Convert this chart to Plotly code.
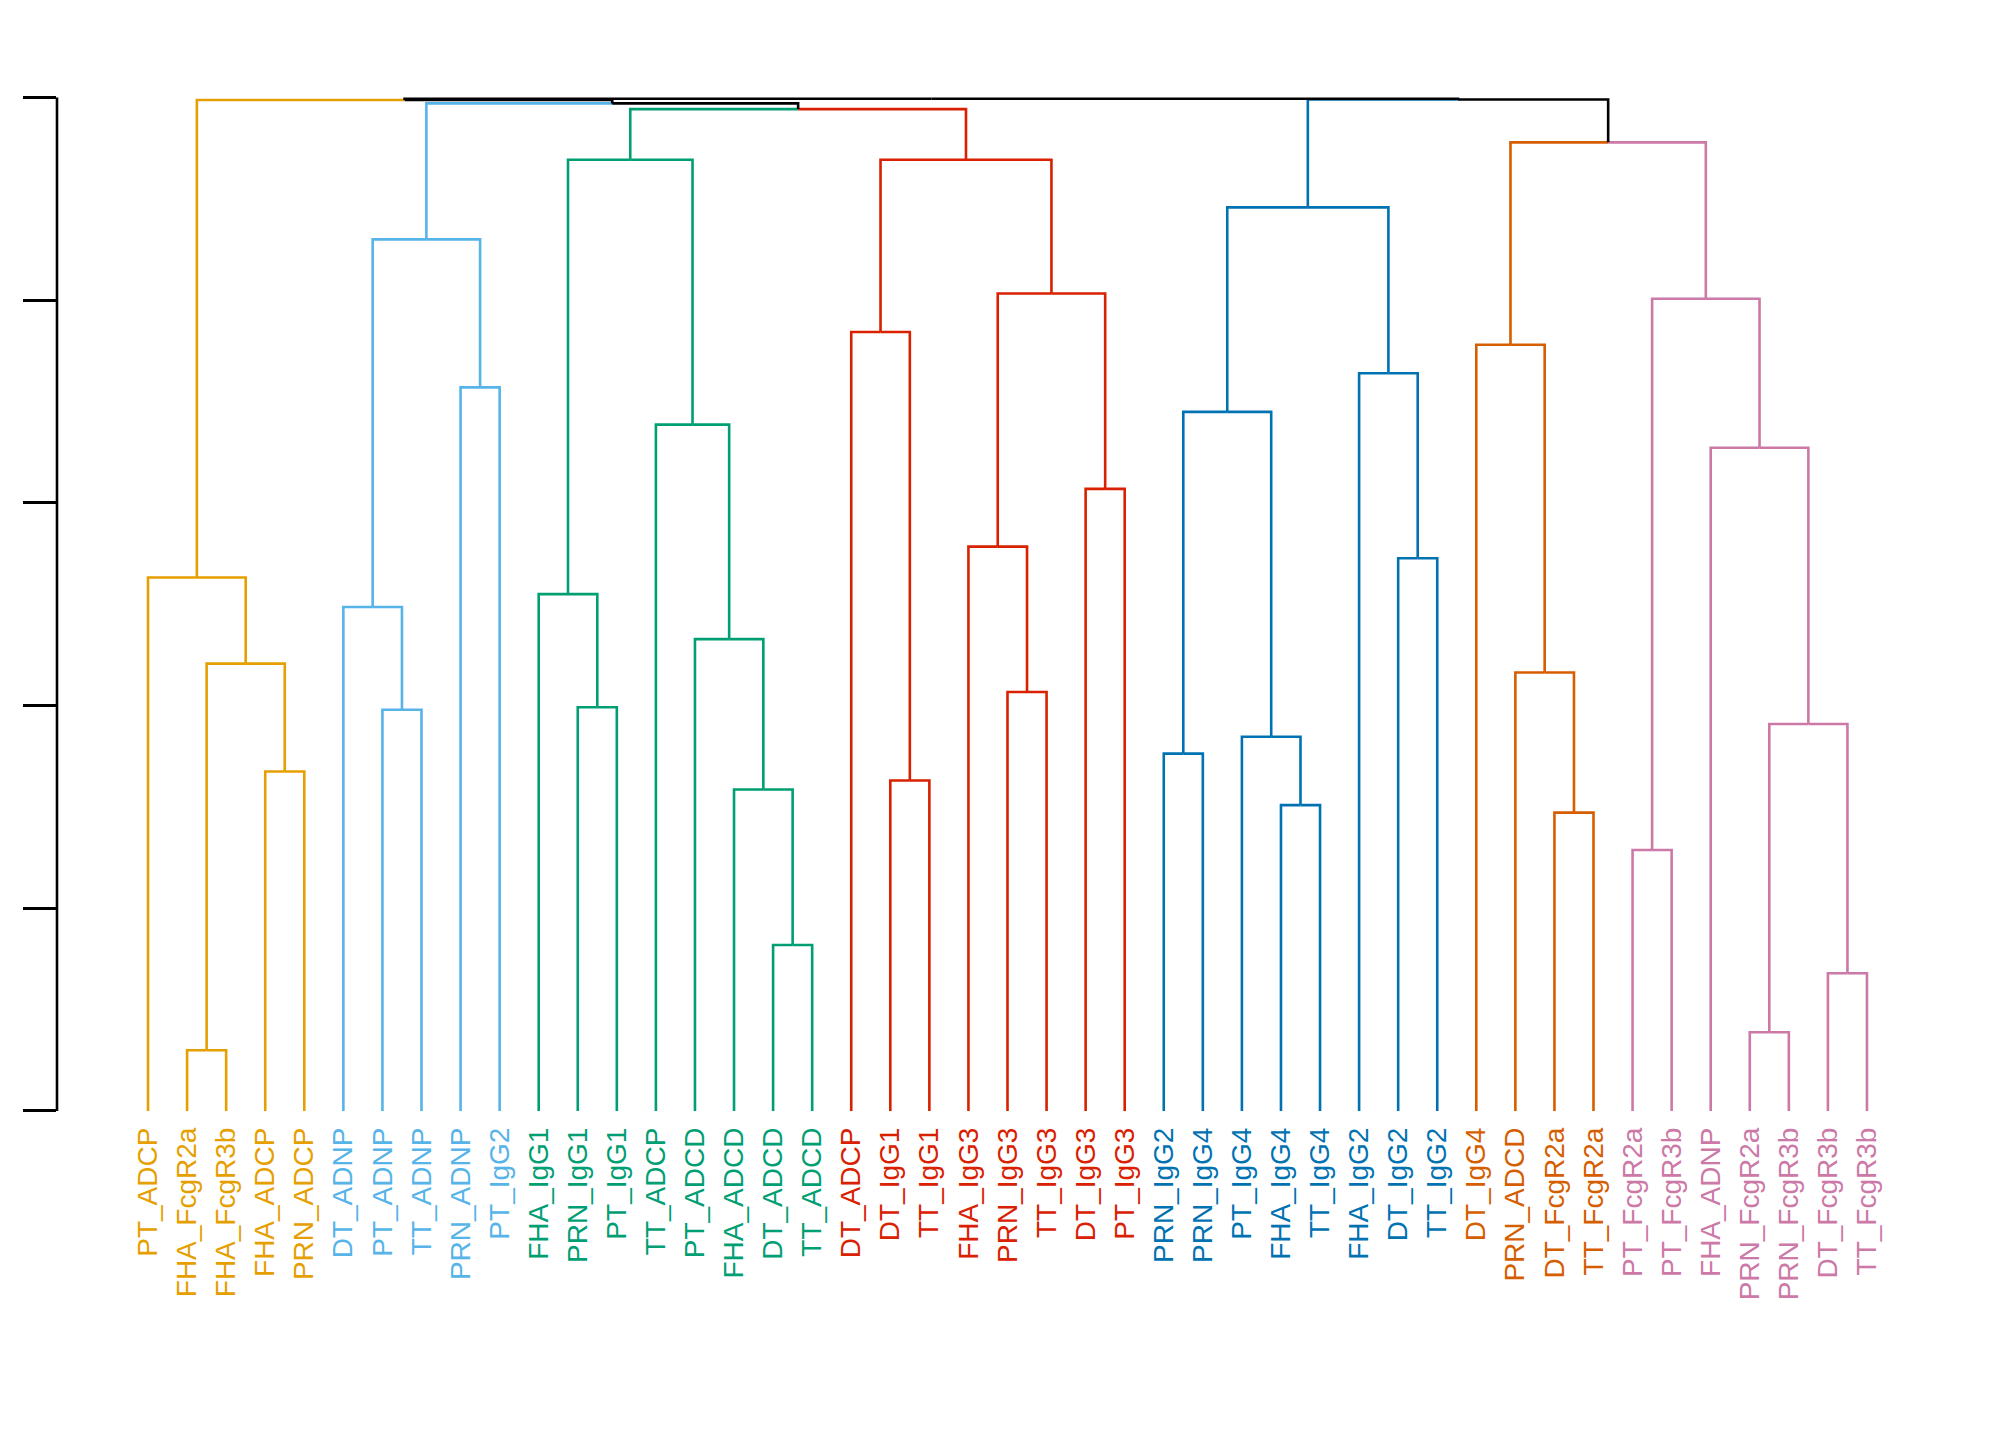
import plotly.graph_objects as go

# leaf order as drawn, left to right
leaf_labels = [
    "PT_ADCP", "FHA_FcgR2a", "FHA_FcgR3b", "FHA_ADCP", "PRN_ADCP",
    "DT_ADNP", "PT_ADNP", "TT_ADNP", "PRN_ADNP", "PT_IgG2",
    "FHA_IgG1", "PRN_IgG1", "PT_IgG1", "TT_ADCP", "PT_ADCD", "FHA_ADCD", "DT_ADCD", "TT_ADCD",
    "DT_ADCP", "DT_IgG1", "TT_IgG1", "FHA_IgG3", "PRN_IgG3", "TT_IgG3", "DT_IgG3", "PT_IgG3",
    "PRN_IgG2", "PRN_IgG4", "PT_IgG4", "FHA_IgG4", "TT_IgG4", "FHA_IgG2", "DT_IgG2", "TT_IgG2",
    "DT_IgG4", "PRN_ADCD", "DT_FcgR2a", "TT_FcgR2a",
    "PT_FcgR2a", "PT_FcgR3b", "FHA_ADNP", "PRN_FcgR2a", "PRN_FcgR3b", "DT_FcgR3b", "TT_FcgR3b",
]
leaf_cluster = [1] * 5 + [2] * 5 + [3] * 8 + [4] * 8 + [5] * 8 + [6] * 4 + [7] * 7
cluster_colors = {
    1: "#E69F00", 2: "#56B4E9", 3: "#009E73", 4: "#D92000",
    5: "#0072B2", 6: "#D55E00", 7: "#CC79A7",
}

# R-style merge matrix: negative = leaf (1-based), positive = earlier merge row
merge_left = [-2, -4, 1, -1, -7, -6, -9, 6, -12, -11, -17, -16, -15, -14, 10,
              -20, -19, -23, -22, -25, 19, 17, -27, -30, -29, 23, -33, -32, 26,
              -37, -36, -35, -39, -42, -44, 34, -41, 33, 32, 29, 15, 8, 4, 43]
merge_right = [-3, -5, 2, 3, -8, 5, -10, 7, -13, 9, -18, 11, 12, 13, 14,
               -21, 16, -24, 18, -26, 20, 21, -28, -31, 24, 25, -34, 27, 28,
               -38, 30, 31, -40, -43, -45, 35, 36, 37, 38, 39, 22, 41, 42, 40]
merge_height = [0.299, 1.675, 2.207, 2.632, 1.979, 2.486, 3.570, 4.300, 1.992, 2.550,
                0.819, 1.586, 2.328, 3.386, 4.693, 1.630, 3.843, 2.067, 2.784, 3.069,
                4.033, 4.693, 1.763, 1.509, 1.846, 3.449, 2.727, 3.640, 4.458, 1.472,
                2.163, 3.780, 1.287, 0.388, 0.679, 1.909, 3.272, 4.007, 4.779, 4.990,
                4.943, 4.971, 4.988, 4.994]

axis_ticks = [0, 1, 2, 3, 4, 5]


def node_info(ref, nodes):
    # x position, height and colour of a leaf or merged node
    if ref < 0:
        i = -ref - 1
        return i + 1, 0.0, cluster_colors[leaf_cluster[i]]
    return nodes[ref - 1]


nodes = []
segments = {}
for left, right, h in zip(merge_left, merge_right, merge_height):
    lx, lh, lc = node_info(left, nodes)
    rx, rh, rc = node_info(right, nodes)
    x = (lx + rx) / 2
    for cx, ch, cc in [(lx, lh, lc), (rx, rh, rc)]:
        xs, ys = segments.setdefault(cc, ([], []))
        xs += [cx, cx, x, None]
        ys += [ch, h, h, None]
    color = lc if lc == rc else "black"
    nodes.append((x, h, color))

fig = go.Figure()
for color, (xs, ys) in segments.items():
    fig.add_trace(go.Scatter(
        x=xs, y=ys, mode="lines",
        line=dict(color=color, width=2.6),
        hoverinfo="skip", showlegend=False,
    ))

tick_text = [
    f'<span style="color:{cluster_colors[c]}">{lab}</span>'
    for lab, c in zip(leaf_labels, leaf_cluster)
]

# axis line only spans the tick range, like base R
fig.add_shape(
    type="line", xref="paper", yref="y",
    x0=0, x1=0, y0=axis_ticks[0], y1=axis_ticks[-1],
    line=dict(color="black", width=2.6),
)

fig.update_layout(
    width=2016,
    height=1440,
    margin=dict(l=49, r=66, t=49, b=331),
    plot_bgcolor="white",
    paper_bgcolor="white",
    font=dict(family="Liberation Sans, Arial", size=28, color="black"),
    xaxis=dict(
        range=[-1.33, 47.33],
        tickmode="array",
        tickvals=list(range(1, len(leaf_labels) + 1)),
        ticktext=tick_text,
        tickangle=-90,
        ticks="",
        ticklabelstandoff=4,
        showgrid=False, zeroline=False, showline=False,
        tickfont=dict(family="Liberation Sans, Arial", size=28),
    ),
    yaxis=dict(
        range=[-0.03, 5.2],
        tickmode="array",
        tickvals=axis_ticks,
        ticks="outside",
        ticklen=33,
        tickwidth=2.6,
        tickcolor="black",
        showticklabels=False,
        showgrid=False, zeroline=False, showline=False,
    ),
)

fig.write_html("out.html")
